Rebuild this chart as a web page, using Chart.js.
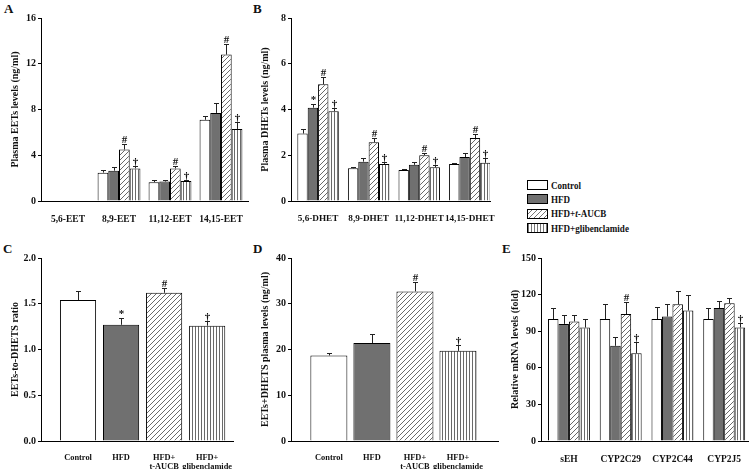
<!DOCTYPE html>
<html>
<head>
<meta charset="utf-8">
<script src="https://cdn.jsdelivr.net/npm/chart.js@4.4.1/dist/chart.umd.min.js"></script>
<style>
  body { margin: 0; background: #fff; width: 750px; height: 469px; position: relative; overflow: hidden;
         font-family: "Liberation Serif", "Times New Roman", serif; font-weight: bold; color: #111; }
  canvas { position: absolute; }
  .tag { position: absolute; font-size: 13px; }
  #legend { position: absolute; left: 527px; top: 178px; font-size: 10.5px; }
  .row { height: 14.3px; display: flex; align-items: center; }
  .row b { display: inline-block; transform: scaleX(0.86); transform-origin: left center; }
  .sw { width: 19px; height: 8px; border: 1px solid #000; margin-right: 3px; box-sizing: content-box; }
</style>
</head>
<body>
<div class="tag" style="left:4px;top:1px">A</div>
<div class="tag" style="left:253px;top:1px">B</div>
<div class="tag" style="left:3px;top:241px">C</div>
<div class="tag" style="left:253px;top:241px">D</div>
<div class="tag" style="left:502px;top:241px">E</div>

<canvas id="chartA" width="250" height="235" style="left:0;top:0"></canvas>
<canvas id="chartB" width="250" height="235" style="left:250px;top:0"></canvas>
<canvas id="chartC" width="250" height="229" style="left:0;top:240px"></canvas>
<canvas id="chartD" width="250" height="229" style="left:250px;top:240px"></canvas>
<canvas id="chartE" width="250" height="229" style="left:500px;top:240px"></canvas>

<div id="legend">
  <div class="row"><span class="sw" style="background:#fff"></span><b>Control</b></div>
  <div class="row"><span class="sw" style="background:#707070"></span><b>HFD</b></div>
  <div class="row"><span class="sw" style="background:repeating-linear-gradient(135deg,#fff 0 2.5px,#777 2.5px 3.5px)"></span><b>HFD+<i>t</i>-AUCB</b></div>
  <div class="row"><span class="sw" style="background:repeating-linear-gradient(90deg,#777 0 1px,#fff 1px 3px)"></span><b>HFD+glibenclamide</b></div>
</div>

<script>
// groups (series)
const groups = ['Control', 'HFD', 'HFD+t-AUCB', 'HFD+glibenclamide'];

// A - plasma EETs (ng/ml)
const eetCats = ['5,6-EET', '8,9-EET', '11,12-EET', '14,15-EET'];
const eetControl = [null, 2.48, 1.65, 7.1];
const eetHFD     = [null, 2.65, 1.70, 7.7];
const eetAUCB    = [null, 4.5, 2.85, 12.8];
const eetGlib    = [null, 2.85, 1.75, 6.3];
const eetControlSem = [0, 0.22, 0.15, 0.3];
const eetHFDSem     = [0, 0.3, 0.1, 0.9];
const eetAUCBSem    = [0, 0.5, 0.2, 0.9];
const eetGlibSem    = [0, 0.25, 0.1, 0.6];
const eetAUCBSig = ['', '#', '#', '#'];
const eetGlibSig = ['', '†', '†', '†'];

// B - plasma DHETs (ng/ml)
const dhetCats = ['5,6-DHET', '8,9-DHET', '11,12-DHET', '14,15-DHET'];
const dhetControl = [2.95, 1.43, 1.35, 1.62];
const dhetHFD     = [4.08, 1.72, 1.58, 1.92];
const dhetAUCB    = [5.1, 2.57, 2.0, 2.75];
const dhetGlib    = [3.92, 1.62, 1.47, 1.67];
const dhetControlSem = [0.2, 0.05, 0.03, 0.03];
const dhetHFDSem     = [0.17, 0.15, 0.14, 0.18];
const dhetAUCBSem    = [0.3, 0.18, 0.1, 0.2];
const dhetGlibSem    = [0.13, 0.1, 0.11, 0.23];
const dhetHFDSig  = ['*', '', '', ''];
const dhetAUCBSig = ['#', '#', '#', '#'];
const dhetGlibSig = ['†', '†', '†', '†'];

// C - EETs-to-DHETs ratio
const groupLabels = [['Control'], ['HFD'], ['HFD+', 't-AUCB'], ['HFD+', 'glibenclamide']];
const ratio    = [1.54, 1.27, 1.62, 1.26];
const ratioSem = [0.1, 0.07, 0.05, 0.05];
const ratioSig = ['', '*', '#', '†'];

// D - EETs+DHETs plasma levels (ng/ml)
const total    = [18.7, 21.4, 32.7, 19.7];
const totalSem = [0.6, 1.9, 2.1, 1.2];
const totalSig = ['', '', '#', '†'];

// E - relative mRNA levels (fold)
const mrnaCats = ['sEH', 'CYP2C29', 'CYP2C44', 'CYP2J5'];
const mrnaControl = [100, 100, 100, 100];
const mrnaHFD     = [96, 78, 102, 109];
const mrnaAUCB    = [98, 104, 112, 113];
const mrnaGlib    = [93, 72, 107, 93];
const mrnaControlSem = [9, 12, 10, 9];
const mrnaHFDSem     = [7, 7, 10, 6];
const mrnaAUCBSem    = [5, 10, 11, 4];
const mrnaGlibSem    = [7, 9, 13, 4];
const mrnaAUCBSig = ['', '#', '', ''];
const mrnaGlibSig = ['', '†', '', '†'];

const FONT = '"Liberation Serif", "Times New Roman", serif';

function pattern(kind) {
  const c = document.createElement('canvas');
  const s = kind === 'diag' ? 5 : 3;
  c.width = s; c.height = s;
  const g = c.getContext('2d');
  g.fillStyle = '#fff';
  g.fillRect(0, 0, s, s);
  g.strokeStyle = '#6a6a6a';
  g.lineWidth = 1;
  g.beginPath();
  if (kind === 'diag') {
    g.moveTo(0, s); g.lineTo(s, 0);
    g.moveTo(-1, 1); g.lineTo(1, -1);
    g.moveTo(s - 1, s + 1); g.lineTo(s + 1, s - 1);
  } else {
    g.moveTo(0.5, 0); g.lineTo(0.5, s);
  }
  g.stroke();
  return g.createPattern(c, 'repeat');
}

const fills = ['#ffffff', '#707070', pattern('diag'), pattern('vert')];

// whiskers (upper SEM only) and significance marks
const errPlugin = {
  id: 'errbars',
  afterDatasetsDraw(chart) {
    const ctx = chart.ctx, ys = chart.scales.y;
    ctx.save();
    ctx.strokeStyle = '#222';
    ctx.fillStyle = '#111';
    ctx.lineWidth = 1;
    ctx.font = 'bold 11px ' + FONT;
    ctx.textAlign = 'center';
    chart.data.datasets.forEach((ds, di) => {
      chart.getDatasetMeta(di).data.forEach((bar, i) => {
        const v = ds.data[i].y;
        if (v == null) return;
        const top = Math.round(ys.getPixelForValue(v + ds.sem[i])) + 0.5;
        const x = Math.round(bar.x) + 0.5;
        ctx.beginPath();
        ctx.moveTo(x, bar.y);
        ctx.lineTo(x, top);
        ctx.moveTo(x - 2.5, top);
        ctx.lineTo(x + 2.5, top);
        ctx.stroke();
        if (ds.sig && ds.sig[i]) ctx.fillText(ds.sig[i], x, top - 2);
      });
    });
    ctx.restore();
  }
};

function series(vals) {
  return vals.map((v, i) => ({ x: i + 1, y: v }));
}

function makeChart(id, labels, datasets, cfg) {
  new Chart(document.getElementById(id), {
    type: 'bar',
    data: { datasets },
    plugins: [errPlugin],
    options: {
      responsive: false,
      animation: false,
      events: [],
      layout: { padding: { top: 18, right: cfg.padRight, left: 0, bottom: 0 } },
      plugins: { legend: { display: false }, tooltip: { enabled: false } },
      datasets: { bar: { categoryPercentage: cfg.catPct, barPercentage: 1, borderWidth: 1, borderColor: '#000' } },
      scales: {
        x: {
          type: 'linear',
          offset: false,
          min: cfg.xMin,
          max: cfg.xMax,
          afterBuildTicks: s => { s.ticks = labels.map((l, i) => ({ value: i + 1 })); },
          afterFit: s => { s.height = cfg.xHeight; },
          grid: { display: false, offset: false },
          border: { display: true, color: '#000', width: 1 },
          ticks: {
            autoSkip: false,
            maxRotation: 0,
            padding: cfg.xPad,
            color: '#111',
            font: { family: FONT, size: cfg.xFont, weight: 'bold', lineHeight: 1.1 },
            callback: v => labels[v - 1]
          }
        },
        y: {
          min: 0,
          max: cfg.yMax,
          afterFit: s => { s.width = 41; },
          ticks: {
            stepSize: cfg.yStep,
            padding: 2,
            color: '#111',
            font: { family: FONT, size: 10, weight: 'bold' },
            callback: v => v.toFixed(cfg.dec)
          },
          grid: { display: true, drawOnChartArea: false, drawTicks: true, tickLength: 3, color: '#000' },
          border: { display: true, color: '#000', width: 1 },
          title: {
            display: true,
            text: cfg.yTitle,
            color: '#111',
            padding: { top: 9, bottom: 0 },
            font: { family: FONT, size: 10, weight: 'bold' }
          }
        }
      }
    }
  });
}

function grouped(vals, sems, sigs) {
  return vals.map((v, k) => ({
    label: groups[k],
    data: series(v),
    sem: sems[k],
    sig: sigs[k],
    backgroundColor: fills[k]
  }));
}

makeChart('chartA', eetCats,
  grouped([eetControl, eetHFD, eetAUCB, eetGlib],
          [eetControlSem, eetHFDSem, eetAUCBSem, eetGlibSem],
          [null, null, eetAUCBSig, eetGlibSig]),
  { xMin: 0.47, xMax: 4.53, padRight: 2, catPct: 0.84, xHeight: 34, xFont: 9.5, xPad: 5,
    yMax: 16, yStep: 4, dec: 0, yTitle: 'Plasma EETs levels (ng/ml)' });

makeChart('chartB', dhetCats,
  grouped([dhetControl, dhetHFD, dhetAUCB, dhetGlib],
          [dhetControlSem, dhetHFDSem, dhetAUCBSem, dhetGlibSem],
          [null, dhetHFDSig, dhetAUCBSig, dhetGlibSig]),
  { xMin: 0.465, xMax: 4.4, padRight: 3, catPct: 0.82, xHeight: 34, xFont: 9.2, xPad: 5,
    yMax: 8, yStep: 2, dec: 0, yTitle: 'Plasma DHETs levels (ng/ml)' });

makeChart('chartC', groupLabels,
  [{ label: 'ratio', data: series(ratio), sem: ratioSem, sig: ratioSig, backgroundColor: fills }],
  { xMin: 0.14, xMax: 4.6, padRight: 17, catPct: 0.84, xHeight: 28, xFont: 8.4, xPad: 4,
    yMax: 2, yStep: 0.5, dec: 1, yTitle: 'EETs-to-DHETS ratio' });

makeChart('chartD', groupLabels,
  [{ label: 'total', data: series(total), sem: totalSem, sig: totalSig, backgroundColor: fills }],
  { xMin: 0.12, xMax: 4.93, padRight: 2, catPct: 0.86, xHeight: 28, xFont: 8.4, xPad: 4,
    yMax: 40, yStep: 10, dec: 0, yTitle: 'EETs+DHETS plasma levels (ng/ml)' });

makeChart('chartE', mrnaCats,
  grouped([mrnaControl, mrnaHFD, mrnaAUCB, mrnaGlib],
          [mrnaControlSem, mrnaHFDSem, mrnaAUCBSem, mrnaGlibSem],
          [null, null, mrnaAUCBSig, mrnaGlibSig]),
  { xMin: 0.46, xMax: 4.46, padRight: 2, catPct: 0.81, xHeight: 28, xFont: 9.5, xPad: 5,
    yMax: 150, yStep: 30, dec: 0, yTitle: 'Relative mRNA levels (fold)' });
</script>
</body>
</html>
